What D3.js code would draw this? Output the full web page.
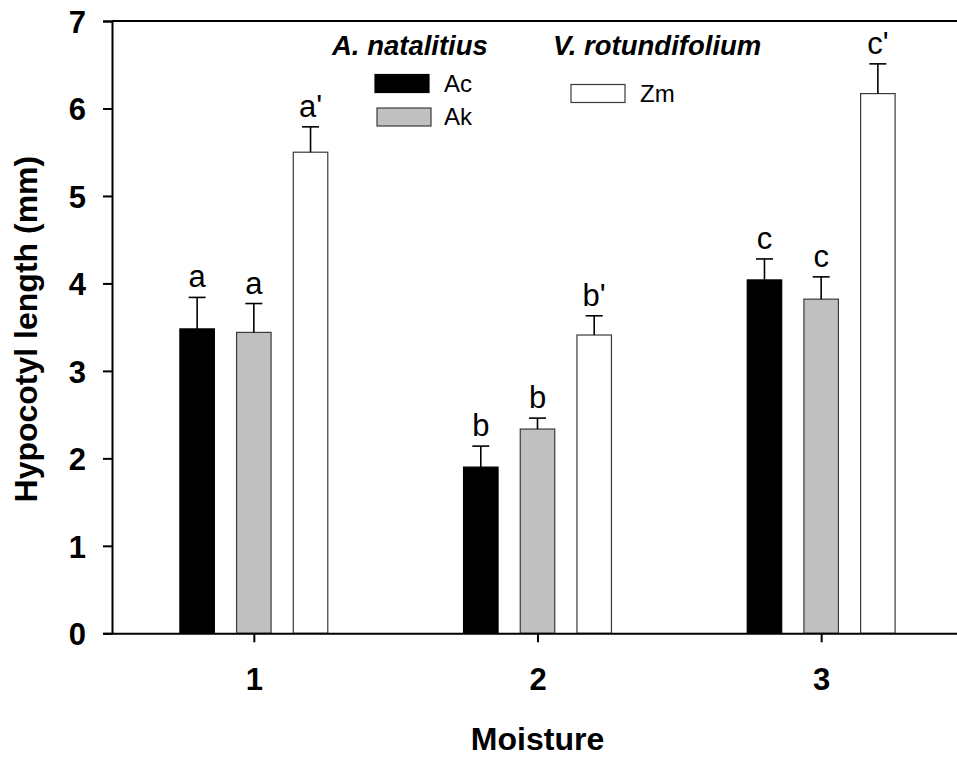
<!DOCTYPE html>
<html>
<head>
<meta charset="utf-8">
<script src="https://cdn.jsdelivr.net/npm/d3@7"></script>
<style>
  html, body { margin: 0; padding: 0; background: #fff; }
  svg { display: block; font-family: "Liberation Sans", Arial, sans-serif; }
</style>
</head>
<body>
<svg id="chart" width="957" height="763"></svg>
<script>
// Moisture levels on the x axis
const moisture = [1, 2, 3];
// Series (seedling source) and their mean hypocotyl length (mm)
const series = ["Ac", "Ak", "Zm"];
const meanAc = [3.48, 1.90, 4.04];
const meanAk = [3.44, 2.335, 3.82];
const meanZm = [5.50, 3.41, 6.17];
// Standard errors (upper whiskers only)
const seAc = [0.36, 0.24, 0.24];
const seAk = [0.33, 0.125, 0.255];
const seZm = [0.29, 0.22, 0.34];
// Significance letters above each bar
const lettersAc = ["a", "b", "c"];
const lettersAk = ["a", "b", "c"];
const lettersZm = ["a'", "b'", "c'"];
// Y axis ticks
const yTicks = [0, 1, 2, 3, 4, 5, 6, 7];

const fills = { Ac: "#000000", Ak: "#c0c0c0", Zm: "#ffffff" };
const strokes = { Ac: "#000000", Ak: "#3a3a3a", Zm: "#3a3a3a" };

const means = { Ac: meanAc, Ak: meanAk, Zm: meanZm };
const ses = { Ac: seAc, Ak: seAk, Zm: seZm };
const letters = { Ac: lettersAc, Ak: lettersAk, Zm: lettersZm };

const rows = [];
series.forEach(s => moisture.forEach((m, i) => {
  rows.push({ s, m, v: means[s][i], se: ses[s][i], lab: letters[s][i] });
}));

const svg = d3.select("#chart");
const plotL = 112, plotR = 963, plotT = 21, plotB = 633.3;

const x = d3.scaleLinear().domain([0.5, 3.5]).range([plotL, plotR]);
const y = d3.scaleLinear().domain([0, 7]).range([plotB, plotT]);
const offset = d3.scalePoint().domain(series).range([-56.7, 56.7]);
const barW = 34.5;

const font = "Liberation Sans, Arial, sans-serif";

// Bars
svg.append("g").selectAll("rect").data(rows).join("rect")
  .attr("x", d => x(d.m) + offset(d.s) - barW / 2)
  .attr("y", d => y(d.v))
  .attr("width", barW)
  .attr("height", d => y(0) - y(d.v))
  .attr("fill", d => fills[d.s])
  .attr("stroke", d => strokes[d.s])
  .attr("stroke-width", 1.2);

// Error bars (upper)
const eb = svg.append("g").attr("stroke", "#000").attr("stroke-width", 1.6);
eb.selectAll("line.v").data(rows).join("line").attr("class", "v")
  .attr("x1", d => x(d.m) + offset(d.s)).attr("x2", d => x(d.m) + offset(d.s))
  .attr("y1", d => y(d.v)).attr("y2", d => y(d.v + d.se));
eb.selectAll("line.c").data(rows).join("line").attr("class", "c")
  .attr("x1", d => x(d.m) + offset(d.s) - 8.5).attr("x2", d => x(d.m) + offset(d.s) + 8.5)
  .attr("y1", d => y(d.v + d.se)).attr("y2", d => y(d.v + d.se));

// Letters
svg.append("g").selectAll("text").data(rows).join("text")
  .attr("x", d => x(d.m) + offset(d.s))
  .attr("y", d => y(d.v + d.se) - 10)
  .attr("text-anchor", "middle")
  .attr("font-size", 31)
  .attr("fill", "#000")
  .text(d => d.lab);

// Frame (top/right)
svg.append("path")
  .attr("d", `M${plotL},${plotT}H${plotR}V${plotB}`)
  .attr("fill", "none").attr("stroke", "#000").attr("stroke-width", 2);

// Y axis
const yAxis = svg.append("g").attr("transform", `translate(${plotL},0)`)
  .call(d3.axisLeft(y).tickValues(yTicks).tickFormat(d3.format("d")).tickSize(9).tickPadding(17));
yAxis.select(".domain").attr("stroke-width", 2);
yAxis.selectAll(".tick line").attr("stroke-width", 2);
yAxis.selectAll("text").attr("font-size", 31).attr("font-weight", "bold")
  .attr("font-family", font).attr("dy", "0.36em");

// X axis
const xAxis = svg.append("g").attr("transform", `translate(0,${plotB})`)
  .call(d3.axisBottom(x).tickValues(moisture).tickFormat(d3.format("d")).tickSize(9).tickPadding(26).tickSizeOuter(0));
xAxis.select(".domain").attr("stroke-width", 2);
xAxis.selectAll(".tick line").attr("stroke-width", 2);
xAxis.selectAll("text").attr("font-size", 31).attr("font-weight", "bold")
  .attr("font-family", font).attr("dy", "0.71em");

// Axis titles
svg.append("text")
  .attr("x", (plotL + plotR) / 2).attr("y", 750)
  .attr("text-anchor", "middle").attr("font-size", 32).attr("font-weight", "bold")
  .text("Moisture");
svg.append("text")
  .attr("transform", `translate(37,${(plotT + plotB) / 2 + 2}) rotate(-90)`)
  .attr("text-anchor", "middle").attr("font-size", 32).attr("font-weight", "bold")
  .text("Hypocotyl length (mm)");

// Legend
const lg = svg.append("g");
lg.append("text").attr("x", 332).attr("y", 55).attr("font-size", 27.5)
  .attr("font-weight", "bold").attr("font-style", "italic").text("A. natalitius");
lg.append("text").attr("x", 553).attr("y", 55).attr("font-size", 27.5)
  .attr("font-weight", "bold").attr("font-style", "italic").text("V. rotundifolium");
const legendItems = [
  { s: "Ac", x: 375, y: 74.5, tx: 444 },
  { s: "Ak", x: 377, y: 108, tx: 444 },
  { s: "Zm", x: 571, y: 84.5, tx: 640 }
];
legendItems.forEach(it => {
  lg.append("rect").attr("x", it.x).attr("y", it.y).attr("width", 54).attr("height", 18)
    .attr("fill", fills[it.s]).attr("stroke", strokes[it.s]).attr("stroke-width", 1.2);
  lg.append("text").attr("x", it.tx).attr("y", it.y + 9).attr("dy", "0.35em")
    .attr("font-size", 24).text(it.s);
});
</script>
</body>
</html>
